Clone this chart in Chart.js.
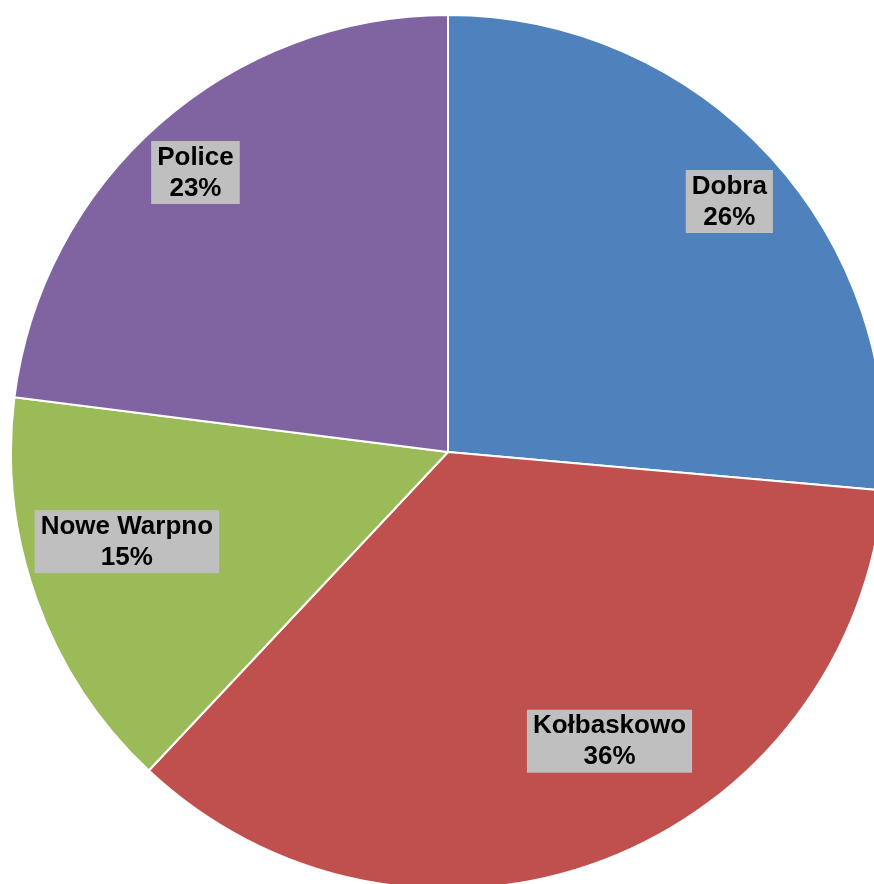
<!DOCTYPE html>
<html>
<head>
<meta charset="utf-8">
<script src="https://cdn.jsdelivr.net/npm/chart.js@4/dist/chart.umd.min.js"></script>
<style>
  html, body { margin: 0; padding: 0; background: #fff; overflow: hidden; width: 874px; height: 884px; }
  #wrap { position: absolute; left: 10px; top: 14px; width: 876px; height: 876px; }
</style>
</head>
<body>
<div id="wrap"><canvas id="pie"></canvas></div>
<script>
const labels = ['Dobra', 'Kołbaskowo', 'Nowe Warpno', 'Police'];
const values = [26.4, 35.6, 15, 23];
const colors = ['#4F81BD', '#C0504D', '#9BBB59', '#8064A2'];
// label placement: fraction of radius, and nudge off the slice middle (degrees)
const labelPos = [0.862, 0.758, 0.763, 0.862];
const labelTurn = [0.8, -8.3, 4.2, -0.7];

const boxLabels = {
  id: 'boxLabels',
  afterDatasetsDraw(chart) {
    const ctx = chart.ctx;
    const meta = chart.getDatasetMeta(0);
    const total = values.reduce((a, b) => a + b, 0);
    ctx.save();
    ctx.font = 'bold 26px "Liberation Sans", Arial, sans-serif';
    ctx.textAlign = 'center';
    ctx.textBaseline = 'middle';
    meta.data.forEach((arc, i) => {
      const mid = (arc.startAngle + arc.endAngle) / 2 + labelTurn[i] * Math.PI / 180;
      const r = arc.outerRadius * labelPos[i];
      const x = arc.x + Math.cos(mid) * r;
      const y = arc.y + Math.sin(mid) * r;
      const pct = Math.round(values[i] / total * 100) + '%';
      const w = Math.max(ctx.measureText(labels[i]).width, ctx.measureText(pct).width) + 12;
      const h = 63;
      ctx.fillStyle = '#BFBFBF';
      ctx.fillRect(x - w / 2, y - h / 2, w, h);
      ctx.fillStyle = '#000';
      ctx.fillText(labels[i], x, y - 15);
      ctx.fillText(pct, x, y + 16);
    });
    ctx.restore();
  }
};

new Chart(document.getElementById('pie'), {
  type: 'pie',
  data: {
    labels,
    datasets: [{
      data: values,
      backgroundColor: colors,
      borderColor: '#fff',
      borderWidth: 2
    }]
  },
  options: {
    responsive: true,
    maintainAspectRatio: false,
    animation: false,
    layout: { padding: 0 },
    plugins: { legend: { display: false }, tooltip: { enabled: false } }
  },
  plugins: [boxLabels]
});
</script>
</body>
</html>
